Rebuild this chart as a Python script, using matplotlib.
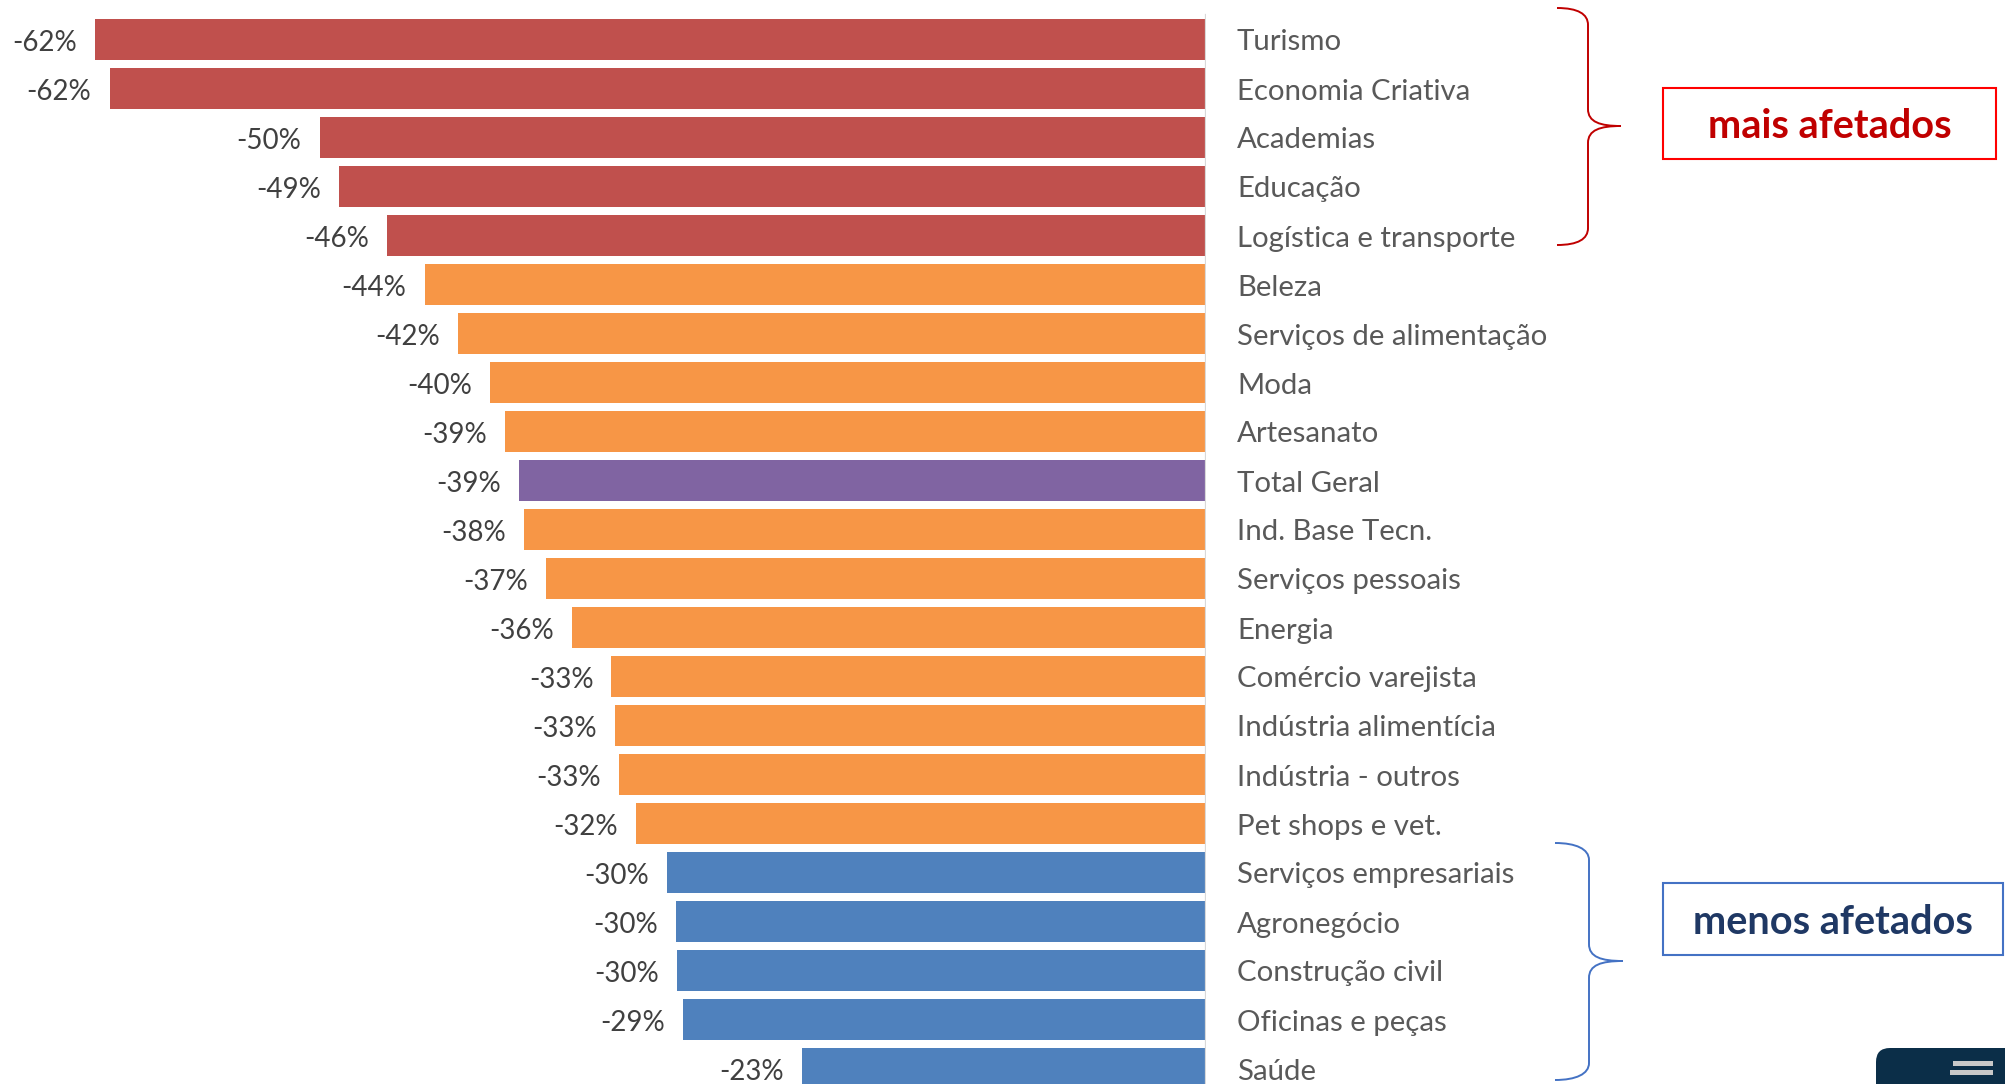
import matplotlib
matplotlib.use("Agg")
import matplotlib.pyplot as plt
from matplotlib.path import Path
from matplotlib.patches import PathPatch, Rectangle, FancyBboxPatch

# dados
setores = ["Turismo", "Economia Criativa", "Academias", "Educação",
           "Logística e transporte", "Beleza", "Serviços de alimentação",
           "Moda", "Artesanato", "Total Geral", "Ind. Base Tecn.",
           "Serviços pessoais", "Energia", "Comércio varejista",
           "Indústria alimentícia", "Indústria - outros", "Pet shops e vet.",
           "Serviços empresariais", "Agronegócio", "Construção civil",
           "Oficinas e peças", "Saúde"]
variacao = [-62.4, -61.6, -49.8, -48.7, -46.0, -43.9, -42.0, -40.2, -39.4,
            -38.6, -38.3, -37.1, -35.6, -33.4, -33.2, -33.0, -32.0, -30.3,
            -29.8, -29.7, -29.4, -22.7]
grupo = (["mais"] * 5 + ["medio"] * 4 + ["total"] + ["medio"] * 7
         + ["menos"] * 5)

cores = {"mais": "#C0504D", "medio": "#F79646", "total": "#8064A2",
         "menos": "#4F81BD"}

FONTE = "Lato"
W, H = 2005, 1084


def chave(ax, x0, xv, xt, y0, ym, y1, cor):
    # chave "}" desenhada com curvas de bezier
    r = 17
    verts = [(x0, y0), (x0 + 21, y0), (xv, y0 + 6), (xv, y0 + r),
             (xv, ym - r),
             (xv, ym - 4), (xv + 12, ym), (xt, ym),
             (xv + 12, ym), (xv, ym + 4), (xv, ym + r),
             (xv, y1 - r),
             (xv, y1 - 6), (x0 + 21, y1), (x0, y1)]
    codes = [Path.MOVETO, Path.CURVE4, Path.CURVE4, Path.CURVE4,
             Path.LINETO,
             Path.CURVE4, Path.CURVE4, Path.CURVE4,
             Path.CURVE4, Path.CURVE4, Path.CURVE4,
             Path.LINETO,
             Path.CURVE4, Path.CURVE4, Path.CURVE4]
    ax.add_patch(PathPatch(Path(verts, codes), fill=False, ec=cor, lw=1.4))


def main():
    fig = plt.figure(figsize=(W / 100, H / 100), dpi=100)
    fig.patch.set_facecolor("white")

    passo = 49.0
    topo = 39.5
    ax = fig.add_axes([0, 0, 1206 / W, 1])
    y = list(range(len(setores)))
    ax.barh(y, variacao, height=41 / passo,
            color=[cores[g] for g in grupo], zorder=2)
    ax.set_xlim(-1206 / 17.8, 0)
    ax.set_ylim((H - topo) / passo, -topo / passo)
    ax.axis("off")
    ax.axvline(0, ymin=0, ymax=1 - 15 / H, color="#d9d9d9", lw=1.6, zorder=3)

    for i, v in enumerate(variacao):
        ax.annotate(f"{v:.0f}%", (v, i), xytext=(-13, -2.2),
                    textcoords="offset points", ha="right", va="center",
                    fontsize=20, color="#404040", family=FONTE)

    # camada de anotações em pixels
    ov = fig.add_axes([0, 0, 1, 1])
    ov.set_xlim(0, W)
    ov.set_ylim(H, 0)
    ov.axis("off")
    ov.patch.set_alpha(0)

    for i, s in enumerate(setores):
        ov.text(1237, topo + i * passo + 3, s, ha="left", va="center",
                fontsize=21.2, color="#595959", family=FONTE)

    chave(ov, 1557, 1588, 1621, 8, 126, 245, "#C00000")
    chave(ov, 1555, 1589, 1623, 843, 961, 1080, "#4472C4")

    ov.add_patch(Rectangle((1663, 88), 333, 71, fill=False, ec="#FF0000",
                           lw=1.5))
    ov.text(1830, 127, "mais afetados", ha="center", va="center",
            fontsize=28.5, fontweight="bold", color="#C00000", family=FONTE)
    ov.add_patch(Rectangle((1663, 883), 340, 72, fill=False, ec="#4472C4",
                           lw=1.5))
    ov.text(1833, 922, "menos afetados", ha="center", va="center",
            fontsize=28.5, fontweight="bold", color="#1F3864", family=FONTE)

    # pedaço do logo no canto
    ov.add_patch(FancyBboxPatch((1876, 1048), 200, 80,
                                boxstyle="round,pad=0,rounding_size=14",
                                fc="#0B2E48", ec="none"))
    ov.add_patch(Rectangle((1953, 1061), 40, 5, fc="#C8C8C8", ec="none"))
    ov.add_patch(Rectangle((1950, 1070), 43, 5, fc="#C8C8C8", ec="none"))

    fig.savefig("out.png", dpi=100)


if __name__ == "__main__":
    main()
